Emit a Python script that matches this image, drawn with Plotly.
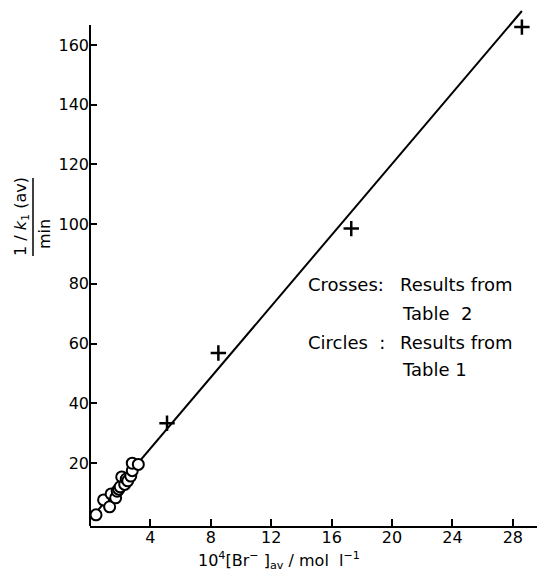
import plotly.graph_objects as go

# ---- data ----
cross_x = [5.1, 8.5, 17.3, 28.6]
cross_y = [33.3, 56.8, 98.5, 166.0]

circle_x = [0.4, 0.9, 1.3, 1.4, 1.7, 1.8, 1.9, 2.0, 2.1, 2.3, 2.4, 2.5, 2.7, 2.8, 2.8, 3.2]
circle_y = [2.6, 7.6, 5.3, 9.6, 8.3, 10.5, 11.2, 12.0, 15.3, 12.8, 14.6, 14.0, 15.6, 17.4, 19.9, 19.5]

fit_x = [0.3, 28.6]
fit_y = [2.8, 171.4]

x_ticks = [4, 8, 12, 16, 20, 24, 28]
y_ticks = [20, 40, 60, 80, 100, 120, 140, 160]

# page has an 8px body margin: build the figure 8px smaller and work in page px
OFF = 8
W, H = 545 - OFF, 575 - OFF
L, R, T, B = 82, 0, 0, 49
PW, PH = W - L - R, H - T - B

def px(x):  # page pixel -> paper x
    return (x - OFF - L) / PW

def py(y):  # page pixel -> paper y
    return (H - B - (y - OFF)) / PH

FONT = "DejaVu Sans"

fig = go.Figure()
fig.add_trace(go.Scatter(x=fit_x, y=fit_y, mode="lines",
                         line=dict(color="black", width=2), hoverinfo="skip"))
fig.add_trace(go.Scatter(x=circle_x, y=circle_y, mode="markers",
                         marker=dict(symbol="circle", size=11, color="white",
                                     line=dict(color="black", width=2)),
                         cliponaxis=False))
fig.add_trace(go.Scatter(x=cross_x, y=cross_y, mode="markers",
                         marker=dict(symbol="cross-thin", size=11,
                                     line=dict(color="black", width=2.5)),
                         cliponaxis=False))

fig.update_layout(
    width=W, height=H,
    margin=dict(l=L, r=R, t=T, b=B, pad=0),
    paper_bgcolor="white", plot_bgcolor="white",
    showlegend=False,
    font=dict(family=FONT, size=16, color="black"),
)
fig.update_xaxes(range=[0, 30.13], tickvals=x_ticks, ticks="inside", ticklen=7,
                 tickwidth=1.5, tickcolor="black", showline=True, linecolor="black",
                 linewidth=2, showgrid=False, zeroline=False, ticklabelstandoff=-4,
                 tickfont=dict(family=FONT, size=16, color="black"))
fig.update_yaxes(range=[-1.14, 172.4], tickvals=y_ticks, ticks="inside", ticklen=7,
                 tickwidth=1.5, tickcolor="black", showline=False,
                 showgrid=False, zeroline=False,
                 tickfont=dict(family=FONT, size=16, color="black"))

# y axis line (shorter than plot area)
fig.add_shape(type="line", xref="paper", yref="y", x0=0, x1=0, y0=-1.14, y1=166.7,
              line=dict(color="black", width=2))

# y axis title as a fraction
fig.add_annotation(text="1 / <i>k</i><sub>1</sub> (av)", textangle=-90,
                   xref="paper", yref="paper", x=px(22), y=py(217),
                   xanchor="center", yanchor="middle",
                   showarrow=False, font=dict(size=16))
fig.add_annotation(text="min", textangle=-90,
                   xref="paper", yref="paper", x=px(44), y=py(234),
                   xanchor="center", yanchor="middle",
                   showarrow=False, font=dict(size=16))
fig.add_shape(type="line", xref="paper", yref="paper", x0=px(33), x1=px(33),
              y0=py(178), y1=py(256), line=dict(color="black", width=1.5))

# x axis title
fig.add_annotation(text="10<sup>4</sup>[Br<sup>\u2212</sup> ]<sub>av</sub> / mol  l<sup>\u22121</sup>",
                   xref="paper", yref="paper", x=px(279), y=py(560),
                   xanchor="center", yanchor="middle",
                   showarrow=False, font=dict(size=16))

# in-plot legend text
def txt(s, x, y):
    fig.add_annotation(text=s, xref="paper", yref="paper", x=px(x), y=py(y),
                       xanchor="left", yanchor="middle", showarrow=False,
                       font=dict(size=18))

txt("Crosses:", 306, 285)
txt("Results from", 398, 285)
txt("Table  2", 400, 313)
txt("Circles  :", 306, 342)
txt("Results from", 398, 342)
txt("Table 1", 400, 370)

fig.write_html("out.html")
